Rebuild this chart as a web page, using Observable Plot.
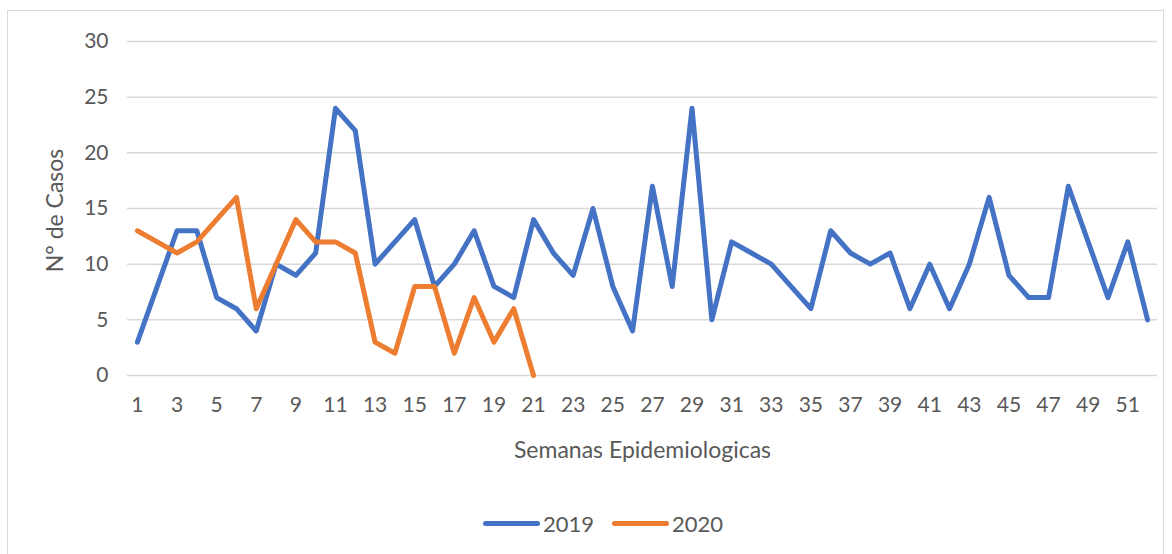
<!DOCTYPE html>
<html>
<head>
<meta charset="utf-8">
<script src="https://cdn.jsdelivr.net/npm/d3@7"></script>
<script src="https://cdn.jsdelivr.net/npm/@observablehq/plot@0.6"></script>
<style>
  html, body { margin: 0; padding: 0; background: #fff; }
  #wrap { position: relative; width: 1172px; height: 554px; overflow: hidden; font-family: Lato, "Open Sans", sans-serif; }
  #frame { position: absolute; left: 7px; top: 10px; width: 1157px; height: 560px; border: 1px solid #d9d9d9; box-sizing: border-box; pointer-events: none; }
  #chart { position: absolute; left: 0; top: 0; }
  #legend { position: absolute; left: 0; top: 510px; width: 1172px; font-size: 22px; color: #595959; }
  .item { position: absolute; display: flex; align-items: center; top: 0; }
  .swatch { width: 57px; height: 5px; border-radius: 2.5px; margin-right: 3px; }
</style>
</head>
<body>
<div id="wrap">
  <div id="chart"></div>
  <div id="frame"></div>
  <div id="legend"></div>
</div>
<script>
const weeks = d3.range(1, 53);
const cases2019 = [3, 8, 13, 13, 7, 6, 4, 10, 9, 11, 24, 22, 10, 12, 14, 8, 10, 13, 8, 7, 14, 11, 9, 15, 8, 4, 17, 8, 24, 5, 12, 11, 10, 8, 6, 13, 11, 10, 11, 6, 10, 6, 10, 16, 9, 7, 7, 17, 12, 7, 12, 5];
const cases2020 = [13, 12, 11, 12, 14, 16, 6, 10, 14, 12, 12, 11, 3, 2, 8, 8, 2, 7, 3, 6, 0];
const seriesNames = ["2019", "2020"];
const seriesColors = ["#4472C4", "#ED7D31"];
const yTicks = [0, 5, 10, 15, 20, 25, 30];
const xTicks = weeks.filter(w => w % 2 === 1);
const xTitle = "Semanas Epidemiologicas";
const yTitle = "N° de Casos";

const data = [
  ...cases2019.map((v, i) => ({week: weeks[i], value: v, series: seriesNames[0]})),
  ...cases2020.map((v, i) => ({week: weeks[i], value: v, series: seriesNames[1]}))
];

const textColor = "#595959";

const chart = Plot.plot({
  width: 1172,
  height: 554,
  marginTop: 41,
  marginBottom: 179,
  marginLeft: 127,
  marginRight: 15,
  style: {fontFamily: "Lato, 'Open Sans', sans-serif", background: "transparent"},
  x: {type: "point", domain: weeks, padding: 0.5},
  y: {domain: [0, 30]},
  color: {domain: seriesNames, range: seriesColors},
  marks: [
    Plot.gridY(yTicks, {stroke: "#d9d9d9", strokeOpacity: 1, strokeWidth: 1.5}),
    Plot.axisY({ticks: yTicks, tickSize: 0, tickPadding: 19, fontSize: 21, color: textColor, label: null}),
    Plot.axisX({ticks: xTicks, tickSize: 0, tickPadding: 22, fontSize: 21, color: textColor, label: null}),
    Plot.line(data, {x: "week", y: "value", z: "series", stroke: "series", strokeWidth: 5, strokeLinejoin: "round", strokeLinecap: "round"}),
    Plot.text([xTitle], {frameAnchor: "bottom", textAnchor: "middle", lineAnchor: "middle", dy: 75, fontSize: 23, fill: textColor}),
    Plot.text([yTitle], {frameAnchor: "left", textAnchor: "middle", lineAnchor: "middle", rotate: -90, dx: -72, dy: 2, fontSize: 23, fill: textColor})
  ]
});
document.getElementById("chart").appendChild(chart);

const legend = document.getElementById("legend");
const lefts = [483, 612];
seriesNames.forEach((name, i) => {
  const item = document.createElement("div");
  item.className = "item";
  item.style.left = lefts[i] + "px";
  const sw = document.createElement("div");
  sw.className = "swatch";
  sw.style.background = seriesColors[i];
  const lab = document.createElement("span");
  lab.textContent = name;
  item.appendChild(sw);
  item.appendChild(lab);
  legend.appendChild(item);
});
</script>
</body>
</html>
